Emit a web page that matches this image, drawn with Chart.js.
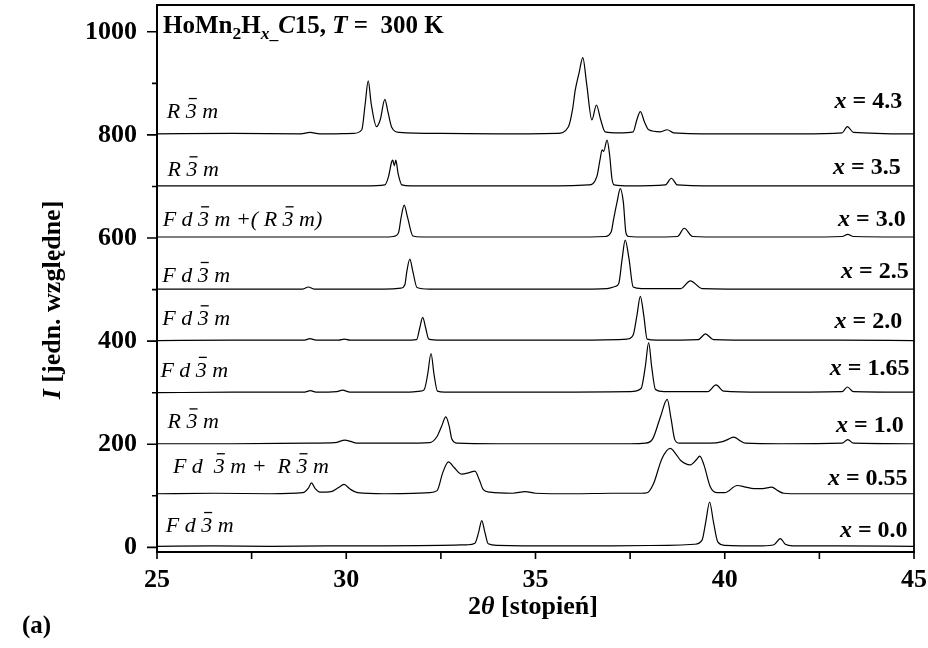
<!DOCTYPE html>
<html>
<head>
<meta charset="utf-8">
<script src="https://cdn.jsdelivr.net/npm/chart.js@4.4.1/dist/chart.umd.min.js"></script>
<style>
  body { margin: 0; background: #fff; }
  #wrap { width: 928px; height: 648px; }
</style>
</head>
<body>
<div id="wrap"><canvas id="xrd" width="928" height="648"></canvas></div>
<script>
// ── DATA ── [2theta (deg), intensity (a.u., offset included)]
const compositions = ['0.0', '0.55', '1.0', '1.65', '2.0', '2.5', '3.0', '3.5', '4.3'];
const phases = [
    'F d 3\u0304 m',
    'F d  3\u0304 m +  R 3\u0304 m',
    'R 3\u0304 m',
    'F d 3\u0304 m',
    'F d 3\u0304 m',
    'F d 3\u0304 m',
    'F d 3\u0304 m +( R 3\u0304 m)',
    'R 3\u0304 m',
    'R 3\u0304 m'
];

const pat00 = [[25,2],[26.5,3],[28,2],[29.5,3],[31,3],[32.5,4],[33.2,5],[33.4,8],[33.5,30],[33.58,52],[33.66,30],
    [33.75,7],[34,4],[35.5,3],[37,3],[38.5,4],[39.2,6],[39.4,14],[39.5,50],[39.6,88],[39.7,50],[39.82,10],[40,4],
    [41,3],[41.3,5],[41.47,17],[41.6,6],[41.8,3],[43,3],[45,2]];
const pat055 = [[25,104],[26.5,105],[28,104],[28.85,106],[29.0,115],[29.08,125],[29.18,114],[29.3,107],[29.6,108],
    [29.8,116],[29.94,122],[30.1,113],[30.3,106],[31,104],[32.2,106],[32.4,110],[32.55,145],[32.7,166],[32.85,155],
    [33.05,142],[33.25,145],[33.4,148],[33.52,130],[33.62,112],[33.8,107],[34.4,105],[34.73,108],[35,105],[36,104],
    [37,105],[37.8,105],[37.95,106],[38.12,124],[38.34,172],[38.56,192],[38.7,182],[38.83,169],[39.09,160],[39.25,170],
    [39.34,177],[39.45,160],[39.62,117],[39.8,106],[40,106],[40.33,120],[40.55,117],[40.77,114],[41.0,114],[41.24,117],
    [41.4,110],[41.56,105],[42,104],[43,104],[45,104]];
const pat10 = [[25,201],[27,201],[29,202],[29.7,203],[29.97,208],[30.3,202],[31.5,202],[32.2,203],[32.39,214],
    [32.52,235],[32.63,253],[32.72,235],[32.79,210],[32.93,202],[34,201],[36,201],[37.5,201],[37.9,202],[38.1,211],
    [38.3,253],[38.48,287],[38.58,250],[38.68,209],[38.8,202],[39.6,202],[39.94,205],[40.1,210],[40.24,214],[40.4,207],
    [40.54,202],[41.5,201],[43.1,202],[43.25,209],[43.4,202],[45,201]];
const pat165 = [[25,300],[27,301],[28.9,301],[29.05,304],[29.2,301],[29.75,302],[29.9,305],[30.1,301],[31.5,301],
    [31.95,303],[32.06,306],[32.15,335],[32.24,376],[32.32,335],[32.41,303],[32.6,301],[34,301],[36,301],[37.5,302],
    [37.79,308],[37.9,350],[37.99,397],[38.07,350],[38.17,306],[38.4,302],[39.55,302],[39.77,315],[39.97,303],[41,301],
    [43.1,302],[43.24,311],[43.4,302],[45,301]];
const pat20 = [[25,401],[27,402],[28.9,402],[29.04,405],[29.2,402],[29.8,402],[29.95,404],[30.1,402],[31.5,402],
    [31.86,403],[31.94,425],[32.02,446],[32.1,425],[32.18,404],[32.5,402],[34,402],[36,402],[37.2,403],[37.42,404],
    [37.58,412],[37.68,450],[37.77,487],[37.86,450],[37.95,404],[38.2,402],[39.3,403],[39.49,414],[39.7,403],[41,402],
    [43,402],[45,401]];
const pat25 = [[25,501],[27,501],[28.85,501],[29.0,505],[29.15,501],[31,501],[31.45,503],[31.55,510],[31.6,535],
    [31.68,559],[31.76,535],[31.87,504],[32.2,501],[34,501],[36,501],[36.89,502],[37.1,506],[37.2,512],[37.29,560],
    [37.37,596],[37.47,560],[37.58,505],[37.8,502],[38.84,502],[39.09,517],[39.4,502],[41,501],[43,501],[45,501]];
const pat30 = [[25,602],[27,602],[29,602],[31,602],[31.25,603],[31.38,610],[31.45,640],[31.53,664],[31.62,640],
    [31.76,604],[32,602],[34,602],[36,602],[36.84,603],[37.0,612],[37.06,635],[37.15,668],[37.24,696],[37.32,670],
    [37.39,610],[37.46,603],[38,602],[38.75,603],[38.93,619],[39.15,603],[40,602],[42,602],[43.1,603],[43.25,607],
    [43.4,603],[45,602]];
const pat35 = [[25,701],[27,701],[29,701],[30.5,701],[31.02,703],[31.12,720],[31.2,748],[31.23,751],[31.27,740],
    [31.31,751],[31.37,725],[31.47,703],[31.7,701],[33,701],[35,701],[36.4,703],[36.62,719],[36.7,750],[36.76,771],
    [36.8,768],[36.89,790],[36.96,760],[37.02,715],[37.08,703],[37.5,701],[38.43,703],[38.59,716],[38.75,703],
    [40,701],[42,701],[45,701]];
const pat43 = [[25,802],[27,803],[28.8,802],[29.04,805],[29.3,802],[30.2,803],[30.41,810],[30.5,860],[30.58,905],
    [30.66,860],[30.8,816],[30.9,830],[31.02,869],[31.1,845],[31.2,815],[31.4,805],[32.5,803],[34,802],[35.57,803],
    [35.87,816],[35.98,850],[36.05,887],[36.15,920],[36.25,950],[36.35,900],[36.49,829],[36.61,858],[36.72,830],
    [36.84,806],[37.2,804],[37.58,806],[37.68,830],[37.77,845],[37.88,825],[37.99,810],[38.3,806],[38.48,810],
    [38.65,804],[40,802],[42,802],[43.1,804],[43.24,816],[43.4,805],[45,802]];
const patterns = [pat00, pat055, pat10, pat165, pat20, pat25, pat30, pat35, pat43];

const xMajor = [25, 30, 35, 40, 45];
const xMinor = [27.5, 32.5, 37.5, 42.5];
const yMajor = [0, 200, 400, 600, 800, 1000];
const yMinor = [100, 300, 500, 700, 900];

// label anchors in data units: phase labels (left, baseline), x labels (right edge, baseline)
const phasePos = [[25.23,30],[25.42,144],[25.28,231],[25.09,331],[25.14,431],[25.14,515],[25.15,623],[25.28,720],[25.26,833]];
const compPos = [[44.83,21],[44.83,120],[44.73,224],[44.88,334],[44.69,425],[44.86,522],[44.78,623],[44.65,724],[44.69,852]];

// ── TEXT HELPERS ──
const SERIF = '"Liberation Serif", "Times New Roman", serif';

function font(size, bold, italic) {
    return (italic ? 'italic ' : '') + (bold ? 'bold ' : '') + size + 'px ' + SERIF;
}

function richWidth(ctx, segs, size, bold) {
    let w = 0;
    segs.forEach(s => {
        ctx.font = font(s.sub ? size * 0.7 : size, bold, s.it);
        w += ctx.measureText(s.t).width;
    });
    return w;
}

function drawRich(ctx, segs, x, y, size, bold, align) {
    let cx = align === 'right' ? x - richWidth(ctx, segs, size, bold)
           : align === 'center' ? x - richWidth(ctx, segs, size, bold) / 2 : x;
    ctx.textAlign = 'left';
    ctx.textBaseline = 'alphabetic';
    segs.forEach(s => {
        ctx.font = font(s.sub ? size * 0.7 : size, bold, s.it);
        ctx.fillText(s.t, cx, s.sub ? y + size * 0.22 : y);
        cx += ctx.measureText(s.t).width;
    });
}

// space group symbol, a digit followed by U+0304 gets a bar on top
function drawPhase(ctx, text, x, y) {
    ctx.font = font(22, false, true);
    ctx.textAlign = 'left';
    ctx.textBaseline = 'alphabetic';
    let cx = x;
    for (let i = 0; i < text.length; i++) {
        const ch = text[i];
        if (ch === '\u0304') continue;
        ctx.fillText(ch, cx, y);
        const w = ctx.measureText(ch).width;
        if (text[i + 1] === '\u0304') ctx.fillRect(cx + 3, y - 20, w - 3, 1.3);
        cx += w;
    }
}

// ── DECORATION PLUGIN ──
const decor = {
    id: 'decor',
    afterDraw(chart) {
        const { ctx, chartArea: a, scales: { x, y } } = chart;
        ctx.save();
        ctx.fillStyle = '#000';
        ctx.strokeStyle = '#000';

        // frame top/right
        ctx.lineWidth = 1.8;
        ctx.beginPath();
        ctx.moveTo(a.left, a.top);
        ctx.lineTo(a.right, a.top);
        ctx.lineTo(a.right, a.bottom);
        ctx.stroke();

        // ticks
        ctx.lineWidth = 1.6;
        ctx.beginPath();
        yMajor.forEach(v => { const p = y.getPixelForValue(v); ctx.moveTo(a.left - 10, p); ctx.lineTo(a.left, p); });
        yMinor.forEach(v => { const p = y.getPixelForValue(v); ctx.moveTo(a.left - 5, p); ctx.lineTo(a.left, p); });
        xMajor.concat(xMinor).forEach(v => { const p = x.getPixelForValue(v); ctx.moveTo(p, a.bottom); ctx.lineTo(p, a.bottom + 7); });
        ctx.stroke();

        // labels on each pattern
        phases.forEach((t, i) => {
            drawPhase(ctx, t, x.getPixelForValue(phasePos[i][0]), y.getPixelForValue(phasePos[i][1]));
        });
        compositions.forEach((c, i) => {
            drawRich(ctx, [{ t: 'x', it: true }, { t: ' = ' + c }],
                x.getPixelForValue(compPos[i][0]), y.getPixelForValue(compPos[i][1]), 24, true, 'right');
        });

        // title
        drawRich(ctx, [
            { t: 'HoMn' }, { t: '2', sub: true }, { t: 'H' }, { t: 'x', it: true, sub: true }, { t: '_', sub: true },
            { t: 'C', it: true }, { t: '15, ' }, { t: 'T', it: true }, { t: ' =  300 K' }
        ], a.left + 6, 33, 25, true, 'left');

        // axis titles
        drawRich(ctx, [{ t: '2' }, { t: '\u03b8', it: true }, { t: ' [stopie\u0144]' }], 533, 614, 26, true, 'center');
        ctx.save();
        ctx.translate(60, 300);
        ctx.rotate(-Math.PI / 2);
        drawRich(ctx, [{ t: 'I', it: true }, { t: ' [jedn. wzgl\u0119dne]' }], 0, 0, 26, true, 'center');
        ctx.restore();

        drawRich(ctx, [{ t: '(a)' }], 22, 633, 25, true, 'left');
        ctx.restore();
    }
};

// ── CHART ──
const datasets = patterns.map((p, i) => ({
    label: 'x = ' + compositions[i],
    data: p.map(pt => ({ x: pt[0], y: pt[1] })),
    showLine: true,
    borderColor: '#000',
    borderWidth: 1.2,
    pointRadius: 0,
    cubicInterpolationMode: 'monotone'
}));

const tickFont = { family: SERIF, size: 26, weight: 'bold' };

new Chart(document.getElementById('xrd'), {
    type: 'scatter',
    data: { datasets },
    options: {
        responsive: false,
        animation: false,
        layout: { autoPadding: false, padding: { top: 5, right: 14, left: 0, bottom: 0 } },
        plugins: { legend: { display: false }, tooltip: { enabled: false } },
        scales: {
            x: {
                type: 'linear',
                min: 25,
                max: 45,
                afterBuildTicks: s => { s.ticks = xMajor.map(v => ({ value: v })); },
                afterFit: s => { s.height = 96; s.paddingLeft = 0; s.paddingRight = 0; },
                grid: { drawOnChartArea: false, tickLength: 7, tickColor: 'transparent' },
                border: { display: true, color: '#000', width: 2 },
                ticks: { color: '#000', font: tickFont, padding: 6, maxRotation: 0, callback: v => String(v) }
            },
            y: {
                type: 'linear',
                min: -9,
                max: 1052,
                afterBuildTicks: s => { s.ticks = yMajor.map(v => ({ value: v })); },
                afterFit: s => { s.width = 157; s.paddingTop = 0; s.paddingBottom = 0; },
                grid: { drawOnChartArea: false, tickLength: 10, tickColor: 'transparent' },
                border: { display: true, color: '#000', width: 2 },
                ticks: { color: '#000', font: tickFont, padding: 10, callback: v => String(v) }
            }
        }
    },
    plugins: [decor]
});
</script>
</body>
</html>
